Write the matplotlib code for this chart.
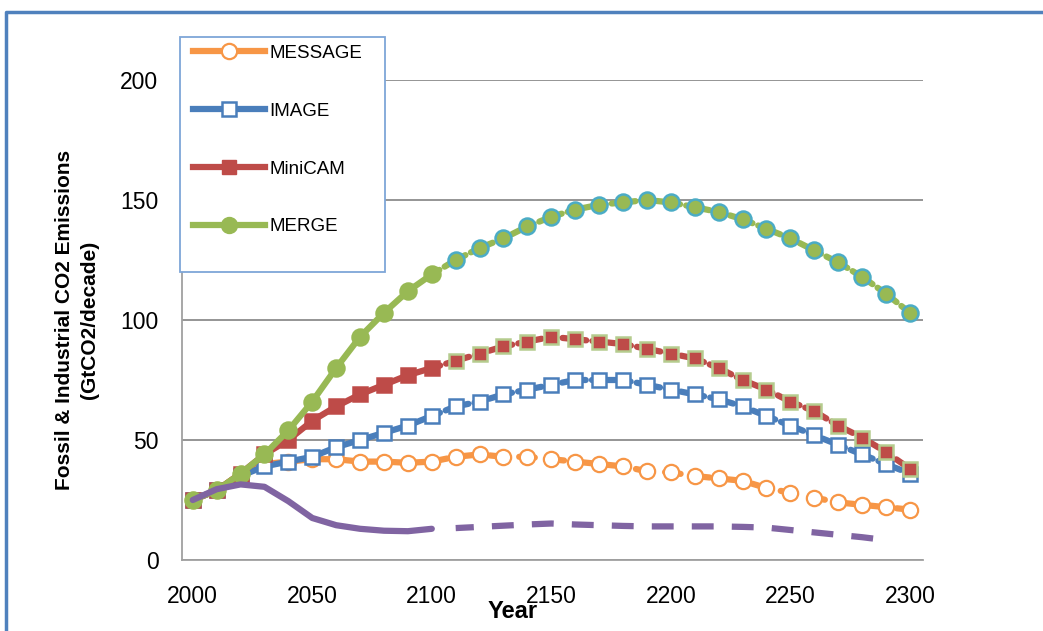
import matplotlib
matplotlib.use("Agg")
import matplotlib.pyplot as plt
import matplotlib.lines as mlines
import matplotlib.patches as mpatches

years = list(range(2000, 2301, 10))

message = [25, 29, 36, 40, 41, 42, 42, 41, 41, 40.5, 41, 43, 44, 43, 43, 42,
           41, 40, 39, 37, 36.5, 35, 34, 33, 30, 28, 26, 24, 23, 22, 21]
image = [25, 29, 35, 39, 41, 43, 47, 50, 53, 56, 60, 64, 66, 69, 71, 73,
         75, 75, 75, 73, 71, 69, 67, 64, 60, 56, 52, 48, 44, 40, 36]
minicam = [25, 29, 36, 44, 50, 58, 64, 69, 73, 77, 80, 83, 86, 89, 91, 93,
           92, 91, 90, 88, 86, 84, 80, 75, 71, 66, 62, 56, 51, 45, 38]
merge = [25, 29, 36, 44, 54, 66, 80, 93, 103, 112, 119, 125, 130, 134, 139, 143,
         146, 148, 149, 150, 149, 147, 145, 142, 138, 134, 129, 124, 118, 111, 103]

# unlabelled series: solid to 2100, dashed afterwards
other_years_a = list(range(2000, 2101, 10))
other_a = [25, 29.5, 31.5, 30.5, 24.5, 17.5, 14.5, 13, 12.2, 12, 13]
other_years_b = list(range(2110, 2291, 10))
other_b = [13.3, 13.8, 14.3, 14.8, 15.2, 14.8, 14.5, 14.2, 14, 14,
           14, 14, 13.8, 13.5, 12.5, 11.5, 10.5, 9.5, 8.3]

ORANGE = "#f79646"
BLUE = "#4a7ebb"
RED = "#be4b48"
GREEN = "#98b954"
PURPLE = "#8064a2"
TEAL = "#4bacc6"
PALEGREEN = "#b5cc8e"
TICKFONT = ["Liberation Sans Narrow", "DejaVu Sans Condensed", "Liberation Sans"]

W, H = 1043, 631
fig = plt.figure(figsize=(W / 100, H / 100), dpi=100)

# outer chart border (only top and left visible)
fig.add_artist(mlines.Line2D([6 / W, 6 / W, 1.0], [0.0, 1 - 12 / H, 1 - 12 / H],
                             color="#4f81bd", lw=2.5, transform=fig.transFigure))

ax = fig.add_axes([182 / W, 1 - 560 / H, (923 - 182) / W, (560 - 80) / H])
ax.set_xlim(1995.5, 2305.5)
ax.set_ylim(0, 200)
ax.set_yticks([0, 50, 100, 150, 200])
ax.set_xticks(range(2000, 2301, 50))
ax.yaxis.grid(True, color="#8c8c8c", lw=1.3)
ax.set_axisbelow(True)
for side in ["top", "right"]:
    ax.spines[side].set_visible(False)
for side in ["left", "bottom"]:
    ax.spines[side].set_color("#a0a0a0")
    ax.spines[side].set_linewidth(1.3)
ax.tick_params(length=0, labelsize=16.5)
ax.tick_params(axis="y", pad=17)
ax.tick_params(axis="x", pad=18)
for lab in ax.get_xticklabels() + ax.get_yticklabels():
    lab.set_family(TICKFONT)

LW = 4.5
dots = (0, (1.4, 1.0))
split = 10  # index of 2100


def draw(vals, color, marker, face, face2, edge2, ms, mew, dash, z):
    ax.plot(years[:split + 1], vals[:split + 1], color=color, lw=LW,
            solid_capstyle="round", zorder=z)
    ax.plot(years[split:], vals[split:], color=color, lw=LW, linestyle=dash,
            dash_capstyle="round", zorder=z)
    ax.plot(years[:split + 1], vals[:split + 1], linestyle="none", marker=marker,
            ms=ms, mfc=face, mec=color, mew=mew, zorder=z + 0.5)
    ax.plot(years[split + 1:], vals[split + 1:], linestyle="none", marker=marker,
            ms=ms, mfc=face2, mec=edge2, mew=mew, zorder=z + 0.5)


draw(message, ORANGE, "o", "white", "white", ORANGE, 11, 1.6, (0, (2.5, 2.2)), 2)
draw(image, BLUE, "s", "white", "white", BLUE, 10.5, 1.8, dots, 3)
draw(minicam, RED, "s", RED, RED, PALEGREEN, 10.5, 1.8, dots, 4)
draw(merge, GREEN, "o", GREEN, GREEN, TEAL, 11.5, 1.8, dots, 5)

ax.plot(other_years_a, other_a, color=PURPLE, lw=LW, solid_capstyle="round", zorder=6)
ax.plot(other_years_b, other_b, color=PURPLE, lw=LW, linestyle=(0.6, (3.5, 2.9)),
        dash_capstyle="butt", zorder=6)

fig.text(77 / W, 1 - 320 / H,
         "Fossil & Industrial CO2 Emissions\n(GtCO2/decade)",
         rotation=90, ha="center", va="center", fontsize=15, fontweight="bold",
         family="Liberation Sans", linespacing=1.35)
fig.text(513 / W, 1 - 612 / H, "Year", ha="center", va="center", fontsize=17,
         fontweight="bold", family=TICKFONT)

# legend box
fig.add_artist(mpatches.Rectangle((180 / W, 1 - 272 / H), (385 - 180) / W, (272 - 37) / H,
                                  transform=fig.transFigure, facecolor="white",
                                  edgecolor="#7ea6d8", lw=1.3, zorder=10))
handles = [
    mlines.Line2D([], [], color=ORANGE, lw=LW, marker="o", ms=11, mfc="white", mec=ORANGE, mew=1.6),
    mlines.Line2D([], [], color=BLUE, lw=LW, marker="s", ms=10.5, mfc="white", mec=BLUE, mew=1.8),
    mlines.Line2D([], [], color=RED, lw=LW, marker="s", ms=10.5, mfc=RED, mec=RED),
    mlines.Line2D([], [], color=GREEN, lw=LW, marker="o", ms=11.5, mfc=GREEN, mec=GREEN),
]
leg = fig.legend(handles, ["MESSAGE", "IMAGE", "MiniCAM", "MERGE"],
                 loc="upper left", bbox_to_anchor=(191 / W, 1 - 43 / H),
                 frameon=False, prop={"family": "Liberation Sans", "size": 13.5},
                 handlelength=3.84, handletextpad=0.25, labelspacing=2.17,
                 borderaxespad=0, borderpad=0.1)
leg.set_zorder(11)

fig.savefig("out.png", dpi=100)
